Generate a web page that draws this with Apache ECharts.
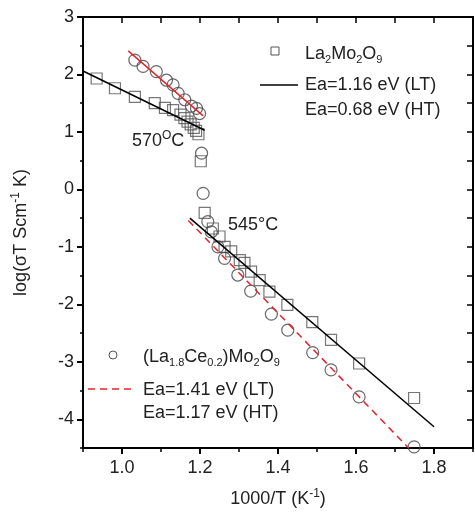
<!DOCTYPE html>
<html><head><meta charset="utf-8">
<script src="https://cdn.jsdelivr.net/npm/echarts@6/dist/echarts.min.js"></script>
<style>html,body{margin:0;padding:0;background:#fff}#c{width:475px;height:523px}</style>
</head><body><div id="c"></div>
<script>
const FONT = '"Liberation Sans", Arial, Helvetica, sans-serif';
const xRange = [0.9, 1.9];
const yRange = [-4.5, 3];
const xMajorTicks = [1.0, 1.2, 1.4, 1.6, 1.8];
const xMinorTicks = [0.9, 1.0, 1.1, 1.2, 1.3, 1.4, 1.5, 1.6, 1.7, 1.8, 1.9];
const yMajorTicks = [-4, -3, -2, -1, 0, 1, 2, 3];
const yMinorTicks = [-4.5, -3.5, -2.5, -1.5, -0.5, 0.5, 1.5, 2.5];
const yRightTicks = [-4.5, -4, -3.5, -3, -2.5, -2, -1.5, -1, -0.5, 0, 0.5, 1, 1.5, 2, 2.5, 3];

// La2Mo2O9 (squares)
const la2Mo2O9 = [
  [0.935, 1.93], [0.982, 1.76], [1.033, 1.61], [1.084, 1.50], [1.110, 1.42],
  [1.131, 1.38], [1.150, 1.30], [1.160, 1.24], [1.168, 1.18], [1.176, 1.13],
  [1.184, 1.07], [1.190, 1.02], [1.196, 0.96], [1.202, 0.49], [1.212, -0.41],
  [1.233, -0.68], [1.250, -0.82], [1.263, -1.00], [1.280, -1.08], [1.302, -1.23],
  [1.314, -1.28], [1.331, -1.43], [1.353, -1.58], [1.378, -1.78], [1.424, -2.01],
  [1.488, -2.31], [1.536, -2.62], [1.608, -3.03], [1.749, -3.63]
];
// (La1.8Ce0.2)Mo2O9 (circles)
const laCeMo2O9 = [
  [1.033, 2.25], [1.054, 2.14], [1.088, 2.05], [1.114, 1.90], [1.131, 1.82],
  [1.144, 1.67], [1.161, 1.56], [1.178, 1.45], [1.191, 1.41], [1.199, 1.32],
  [1.204, 0.63], [1.208, -0.07], [1.220, -0.56], [1.229, -0.74], [1.246, -1.00],
  [1.263, -1.20], [1.297, -1.49], [1.330, -1.77], [1.383, -2.17], [1.425, -2.45],
  [1.489, -2.84], [1.536, -3.14], [1.608, -3.61], [1.749, -4.48]
];
// Arrhenius fit segments
const fitLaHT = [[0.9, 2.06], [1.212, 1.03]];
const fitLaLT = [[1.174, -0.50], [1.80, -4.13]];
const fitCeHT = [[1.016, 2.41], [1.208, 1.28]];
const fitCeLT = [[1.17, -0.54], [1.735, -4.5]];

const TXT = '#222';
const subStyle = {fontSize: 11, fontFamily: FONT, verticalAlign: 'bottom', lineHeight: 9, fill: TXT, color: TXT};
const supStyle = {fontSize: 12, fontFamily: FONT, verticalAlign: 'top', lineHeight: 10, fill: TXT, color: TXT};

function axisBase(extra) {
  return Object.assign({
    type: 'value', min: xRange[0], max: xRange[1],
    splitLine: {show: false}, axisPointer: {show: false}
  }, extra);
}

const chart = echarts.init(document.getElementById('c'), null, {renderer: 'canvas'});
chart.setOption({
  animation: false,
  backgroundColor: '#fff',
  grid: {left: 83, right: 2, top: 17, bottom: 75},
  xAxis: [
    axisBase({
      position: 'bottom',
      axisLine: {show: true, onZero: false, lineStyle: {color: '#000', width: 2}},
      axisTick: {show: true, customValues: xMajorTicks, inside: false, length: 6, lineStyle: {color: '#000', width: 2}},
      axisLabel: {show: true, customValues: xMajorTicks, formatter: v => Number(v).toFixed(1), fontSize: 18, fontFamily: FONT, color: TXT, margin: 11},
      name: '1000/T (K{sup|-1})', nameLocation: 'middle', nameGap: 40,
      nameTextStyle: {fontSize: 18, fontFamily: FONT, color: TXT, lineHeight: 22, rich: {sup: supStyle}}
    }),
    axisBase({
      position: 'bottom',
      axisLine: {show: false, onZero: false},
      axisTick: {show: true, customValues: xMinorTicks, inside: false, length: 4, lineStyle: {color: '#000', width: 1.5}},
      axisLabel: {show: false}
    }),
    axisBase({
      position: 'top',
      axisLine: {show: true, onZero: false, lineStyle: {color: '#000', width: 2}},
      axisTick: {show: true, customValues: xMinorTicks, inside: true, length: 6, lineStyle: {color: '#000', width: 1.5}},
      axisLabel: {show: false}
    })
  ],
  yAxis: [
    {
      type: 'value', position: 'left', min: yRange[0], max: yRange[1],
      splitLine: {show: false},
      axisLine: {show: true, onZero: false, lineStyle: {color: '#000', width: 2}},
      axisTick: {show: true, customValues: yMajorTicks, inside: false, length: 6, lineStyle: {color: '#000', width: 2}},
      axisLabel: {show: true, customValues: yMajorTicks, formatter: v => String(v), fontSize: 18, fontFamily: FONT, color: TXT, margin: 9},
      name: 'log(σT Scm{sup|-1} K)', nameLocation: 'middle', nameGap: 51, nameRotate: 90,
      nameTextStyle: {fontSize: 18, fontFamily: FONT, color: TXT, lineHeight: 22, rich: {sup: supStyle}}
    },
    {
      type: 'value', position: 'left', min: yRange[0], max: yRange[1],
      splitLine: {show: false},
      axisLine: {show: false, onZero: false},
      axisTick: {show: true, customValues: yMinorTicks, inside: false, length: 3, lineStyle: {color: '#000', width: 1.5}},
      axisLabel: {show: false}
    },
    {
      type: 'value', position: 'right', min: yRange[0], max: yRange[1],
      splitLine: {show: false},
      axisLine: {show: true, onZero: false, lineStyle: {color: '#000', width: 2}},
      axisTick: {show: true, customValues: yRightTicks, inside: true, length: 6, lineStyle: {color: '#000', width: 1.5}},
      axisLabel: {show: false}
    }
  ],
  series: [
    {type: 'scatter', name: 'La2Mo2O9', data: la2Mo2O9, symbol: 'rect', symbolSize: 11, z: 2,
     itemStyle: {color: 'rgba(0,0,0,0)', borderColor: '#555', borderWidth: 1.2}},
    {type: 'scatter', name: '(La1.8Ce0.2)Mo2O9', data: laCeMo2O9, symbol: 'circle', symbolSize: 12, z: 2,
     itemStyle: {color: 'rgba(0,0,0,0)', borderColor: '#444', borderWidth: 1.2}},
    {type: 'line', data: fitLaHT, symbol: 'none', z: 3, lineStyle: {color: '#000', width: 1.5}},
    {type: 'line', data: fitLaLT, symbol: 'none', z: 3, lineStyle: {color: '#000', width: 1.5}},
    {type: 'line', data: fitCeHT, symbol: 'none', z: 4, lineStyle: {color: '#e3262d', width: 1.5}},
    {type: 'line', data: fitCeLT, symbol: 'none', z: 4, lineStyle: {color: '#e3262d', width: 1.5, type: [7, 5]}}
  ],
  graphic: [
    {type: 'rect', shape: {x: 271, y: 47, width: 8, height: 8}, style: {fill: 'none', stroke: '#555', lineWidth: 1}},
    {type: 'text', x: 305, y: 54, style: {text: 'La{sub|2}Mo{sub|2}O{sub|9}', fontSize: 18, fontFamily: FONT, fill: TXT, verticalAlign: 'middle', lineHeight: 22, rich: {sub: subStyle}}},
    {type: 'line', shape: {x1: 260, y1: 85, x2: 298, y2: 85}, style: {stroke: '#000', lineWidth: 1.5}},
    {type: 'text', x: 305, y: 85, style: {text: 'Ea=1.16 eV (LT)', fontSize: 18, fontFamily: FONT, fill: TXT, verticalAlign: 'middle'}},
    {type: 'text', x: 305, y: 110, style: {text: 'Ea=0.68 eV (HT)', fontSize: 18, fontFamily: FONT, fill: TXT, verticalAlign: 'middle'}},
    {type: 'circle', shape: {cx: 113, cy: 355, r: 4}, style: {fill: 'none', stroke: '#555', lineWidth: 1}},
    {type: 'text', x: 143, y: 357, style: {text: '(La{sub|1.8}Ce{sub|0.2})Mo{sub|2}O{sub|9}', fontSize: 18, fontFamily: FONT, fill: TXT, verticalAlign: 'middle', lineHeight: 22, rich: {sub: subStyle}}},
    {type: 'line', shape: {x1: 88, y1: 389, x2: 132, y2: 389}, style: {stroke: '#e3262d', lineWidth: 1.5, lineDash: [7, 5]}},
    {type: 'text', x: 143, y: 390, style: {text: 'Ea=1.41 eV (LT)', fontSize: 18, fontFamily: FONT, fill: TXT, verticalAlign: 'middle'}},
    {type: 'text', x: 143, y: 413, style: {text: 'Ea=1.17 eV (HT)', fontSize: 18, fontFamily: FONT, fill: TXT, verticalAlign: 'middle'}},
    {type: 'text', x: 132, y: 141, style: {text: '570{sup|O}C', fontSize: 18, fontFamily: FONT, fill: TXT, verticalAlign: 'middle', lineHeight: 22, rich: {sup: supStyle}}},
    {type: 'text', x: 228, y: 225, style: {text: '545°C', fontSize: 18, fontFamily: FONT, fill: TXT, verticalAlign: 'middle'}}
  ]
});
</script></body></html>
